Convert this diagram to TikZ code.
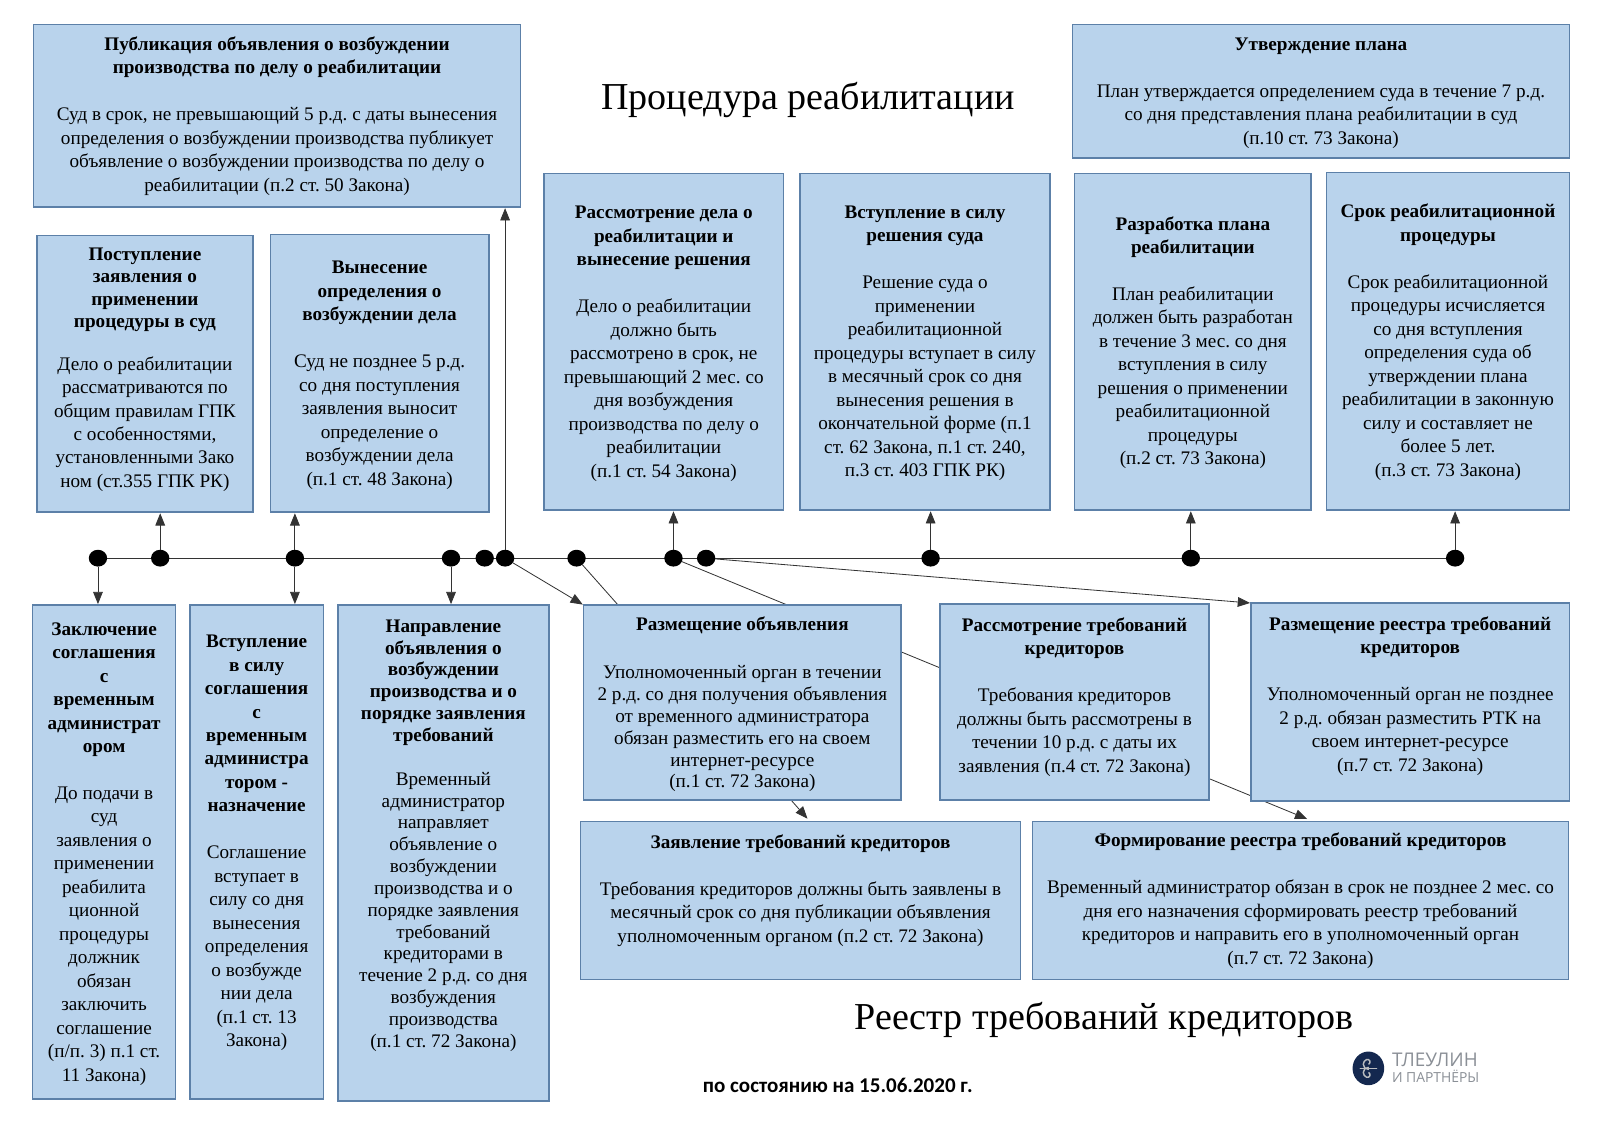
\documentclass[tikz,border=0pt]{standalone}
\usepackage{fontspec}
\setmainfont{Liberation Serif}
\newfontfamily\datefont{Carlito}
\newfontfamily\logofont{Open Sans}
\usetikzlibrary{positioning, calc, arrows.meta, backgrounds, shapes.geometric}
\definecolor{boxfill}{HTML}{B9D3EC}
\definecolor{boxline}{HTML}{5C80A8}
\definecolor{logoblue}{HTML}{14284F}
\definecolor{logogray}{HTML}{8A8F96}
\newcommand{\bodyfont}{\fontsize{18.8}{23}\selectfont\frenchspacing}
\newcommand{\tightfont}{\fontsize{18.8}{21.4}\selectfont\frenchspacing}
\newcommand{\hd}[1]{\textbf{#1}}
\newcommand{\lift}[1]{\\[#1]\mbox{}}
\newcommand{\dropby}[1]{\mbox{}\\[#1]}
\tikzset{
	procbox/.style={draw=boxline, fill=boxfill, line width=1.5pt, anchor=north west, align=center, inner sep=0pt, outer sep=0pt, font=\bodyfont},
	dot/.style={ellipse, fill=black, minimum width=18pt, minimum height=16.5pt, inner sep=0pt, outer sep=0pt},
	link/.style={-{Triangle[width=9.5pt,length=12pt]}, line width=.8pt, draw=black!80, shorten >=1pt},
	plain/.style={line width=.8pt, draw=black!80},
	title/.style={font=\fontsize{37.3}{44}\selectfont, inner sep=0pt}
}

\begin{document}
\begin{tikzpicture}[x=1pt, y=-1pt]
	\useasboundingbox (0,0) rectangle (1568,1108.4);

	% titles
	\node[title] (maintitle) at (792,98) {Процедура реабилитации};
	\node[title] (regtitle) at (1082,1000) {Реестр требований кредиторов};
	\node[font=\datefont\bfseries\fontsize{20.6}{24}\selectfont, inner sep=0pt] (datenote) at (821,1064) {по состоянию на 15.06.2020 г.};

	% upper row
	\node[procbox, minimum width=477pt, minimum height=179pt] (publish) at (33,24) {\hd{Публикация объявления о возбуждении}\\\hd{производства по делу о реабилитации}\\[23pt]Суд в срок, не превышающий 5 р.д. с даты вынесения\\определения о возбуждении производства публикует\\объявление о возбуждении производства по делу о\\реабилитации (п.2 ст. 50 Закона)};
	\node[procbox, minimum width=487pt, minimum height=131pt] (approve) at (1051,24) {\dropby{-7pt}\hd{Утверждение плана}\\[23pt]План утверждается определением суда в течение 7 р.д.\\со дня представления плана реабилитации в суд\\(п.10 ст. 73 Закона)};
	\node[procbox, minimum width=212pt, minimum height=271pt] (filing) at (36,231) {\hd{Поступление}\\[-1.3pt]\hd{заявления о}\\[-1.3pt]\hd{применении}\\[-1.3pt]\hd{процедуры в суд}\\[19pt]Дело о реабилитации\\рассматриваются по\\общим правилам ГПК\\с особенностями,\\установленными Зако\\ном (ст.355 ГПК РК)\lift{-11pt}};
	\node[procbox, minimum width=214pt, minimum height=272pt] (ruling) at (265,230) {\dropby{-7pt}\hd{Вынесение}\\\hd{определения о}\\\hd{возбуждении дела}\\[23pt]Суд не позднее 5 р.д.\\со дня поступления\\заявления выносит\\определение о\\возбуждении дела\\(п.1 ст. 48 Закона)};
	\node[procbox, minimum width=235pt, minimum height=330pt] (hearing) at (533,170) {\dropby{-7pt}\hd{Рассмотрение дела о}\\\hd{реабилитации и}\\\hd{вынесение решения}\\[23pt]Дело о реабилитации\\должно быть\\рассмотрено в срок, не\\превышающий 2 мес. со\\дня возбуждения\\производства по делу о\\реабилитации\\(п.1 ст. 54 Закона)};
	\node[procbox, minimum width=245pt, minimum height=330pt] (force) at (784,170) {\dropby{-8pt}\hd{Вступление в силу}\\\hd{решения суда}\\[23pt]Решение суда о\\применении\\реабилитационной\\процедуры вступает в силу\\в месячный срок со дня\\вынесения решения в\\окончательной форме (п.1\\ст. 62 Закона, п.1 ст. 240,\\п.3 ст. 403 ГПК РК)};
	\node[procbox, minimum width=232pt, minimum height=330pt] (drafting) at (1053,170) {\dropby{-8pt}\hd{Разработка плана}\\\hd{реабилитации}\\[23pt]План реабилитации\\должен быть разработан\\в течение 3 мес. со дня\\вступления в силу\\решения о применении\\реабилитационной\\процедуры\\(п.2 ст. 73 Закона)};
	\node[procbox, minimum width=238pt, minimum height=331pt] (term) at (1300,169) {\dropby{-8pt}\hd{Срок реабилитационной}\\\hd{процедуры}\\[23pt]Срок реабилитационной\\процедуры исчисляется\\со дня вступления\\определения суда об\\утверждении плана\\реабилитации в законную\\силу и составляет не\\более 5 лет.\\(п.3 ст. 73 Закона)};

	% lower row
	\node[procbox, minimum width=140pt, minimum height=484pt] (agreement) at (32,593) {\dropby{-7pt}\hd{Заключение}\\\hd{соглашения}\\\hd{с}\\\hd{временным}\\\hd{администрат}\\\hd{ором}\\[23pt]До подачи в\\суд\\заявления о\\применении\\реабилита\\ционной\\процедуры\\должник\\обязан\\заключить\\соглашение\\(п/п. 3) п.1 ст.\\11 Закона)};
	\node[procbox, minimum width=131pt, minimum height=484pt] (appoint) at (186,593) {\hd{Вступление}\\\hd{в силу}\\\hd{соглашения}\\\hd{с}\\\hd{временным}\\\hd{администра}\\\hd{тором -}\\\hd{назначение}\\[23pt]Соглашение\\вступает в\\силу со дня\\вынесения\\определения\\о возбужде\\нии дела\\(п.1 ст. 13\\Закона)\lift{-1pt}};
	\node[procbox, font=\tightfont, minimum width=207pt, minimum height=486pt] (notice) at (331,593) {\hd{Направление}\\\hd{объявления о}\\\hd{возбуждении}\\\hd{производства и о}\\\hd{порядке заявления}\\\hd{требований}\\[21.4pt]Временный\\администратор\\направляет\\объявление о\\возбуждении\\производства и о\\порядке заявления\\требований\\кредиторами в\\течение 2 р.д. со дня\\возбуждения\\производства\\(п.1 ст. 72 Закона)\lift{17pt}};
	\node[procbox, font=\tightfont, minimum width=311pt, minimum height=191pt] (posting) at (572,593) {\dropby{-4.4pt}\hd{Размещение объявления}\\[26pt]Уполномоченный орган в течении\\2 р.д. со дня получения объявления\\от временного администратора\\обязан разместить его на своем\\интернет-ресурсе\\(п.1 ст. 72 Закона)};
	\node[procbox, minimum width=264pt, minimum height=192pt] (review) at (921,592) {\hd{Рассмотрение требований}\\\hd{кредиторов}\\[23pt]Требования кредиторов\\должны быть рассмотрены в\\течении 10 р.д. с даты их\\заявления (п.4 ст. 72 Закона)\lift{-9pt}};
	\node[procbox, minimum width=312pt, minimum height=194pt] (regpost) at (1226,591) {\hd{Размещение реестра требований}\\\hd{кредиторов}\\[23pt]Уполномоченный орган не позднее\\2 р.д. обязан разместить РТК на\\своем интернет-ресурсе\\(п.7 ст. 72 Закона)\lift{-7pt}};
	\node[procbox, minimum width=431pt, minimum height=155pt] (claims) at (569,805) {\hd{Заявление требований кредиторов}\\[23pt]Требования кредиторов должны быть заявлены в\\месячный срок со дня публикации объявления\\уполномоченным органом (п.2 ст. 72 Закона)\lift{1pt}};
	\node[procbox, minimum width=525pt, minimum height=155pt] (register) at (1012,805) {\dropby{-9pt}\hd{Формирование реестра требований кредиторов}\\[23pt]Временный администратор обязан в срок не позднее 2 мес. со\\дня его назначения сформировать реестр требований\\кредиторов и направить его в уполномоченный орган\\(п.7 ст. 72 Закона)};

	% timeline points
	\foreach \name/\xpos in {d1/96, d2/157, d3/289, d4/442, d5/475, d6/495, d7/565, d8/660, d9/692, d10/912, d11/1167, d12/1426}
		\node[dot] (\name) at (\xpos,547) {};

	% connectors run behind the boxes
	\coordinate (claimsend) at (792,803);
	\coordinate (registerend) at (1282,803);
	\begin{scope}[on background layer]
		\draw[plain] (d1) -- (d12);
		\draw[link] (d7) -- (claimsend);
		\draw[link] (d8) -- (registerend);
	\end{scope}
	\draw[link] (d1) -- (d1 |- agreement.north);
	\draw[link] (d2) -- (d2 |- filing.south);
	\draw[link] (d3) -- (d3 |- ruling.south);
	\draw[link] (d3) -- (d3 |- appoint.north);
	\draw[link] (d4) -- (d4 |- notice.north);
	\draw[link] (d6) -- (d6 |- publish.south);
	\draw[link] (d6) -- (posting.north west);
	\draw[link] (d8) -- (d8 |- hearing.south);
	\draw[link] (d9) -- (regpost.north west);
	\draw[link] (d10) -- (d10 |- force.south);
	\draw[link] (d11) -- (d11 |- drafting.south);
	\draw[link] (d12) -- (d12 |- term.south);

	% logo
	\node[ellipse, fill=logoblue, minimum width=31pt, minimum height=33pt, inner sep=0pt] (logo) at (1341,1047) {};
	\draw[logogray!60, line width=1.4pt, line cap=round] (logo.center) ++(0,-1) arc (-90:-250:5) arc (110:-60:2.5);
	\draw[logogray!60, line width=1.4pt, line cap=round] (logo.center) ++(0,1) arc (90:250:5) arc (-110:60:2.5);
	\draw[logogray!60, line width=1.4pt, line cap=round] (logo.center) ++(-8,0) -- ++(16,0);
	\node[font=\logofont\fontsize{18.5}{20}\selectfont, text=logogray, inner sep=0pt, anchor=west] (logoname) at (1364,1039) {ТЛЕУЛИН};
	\node[font=\logofont\fontsize{13.6}{15}\selectfont, text=logogray, inner sep=0pt, anchor=west] (logosub) at (1364,1055) {И ПАРТНЁРЫ};
\end{tikzpicture}
\end{document}
